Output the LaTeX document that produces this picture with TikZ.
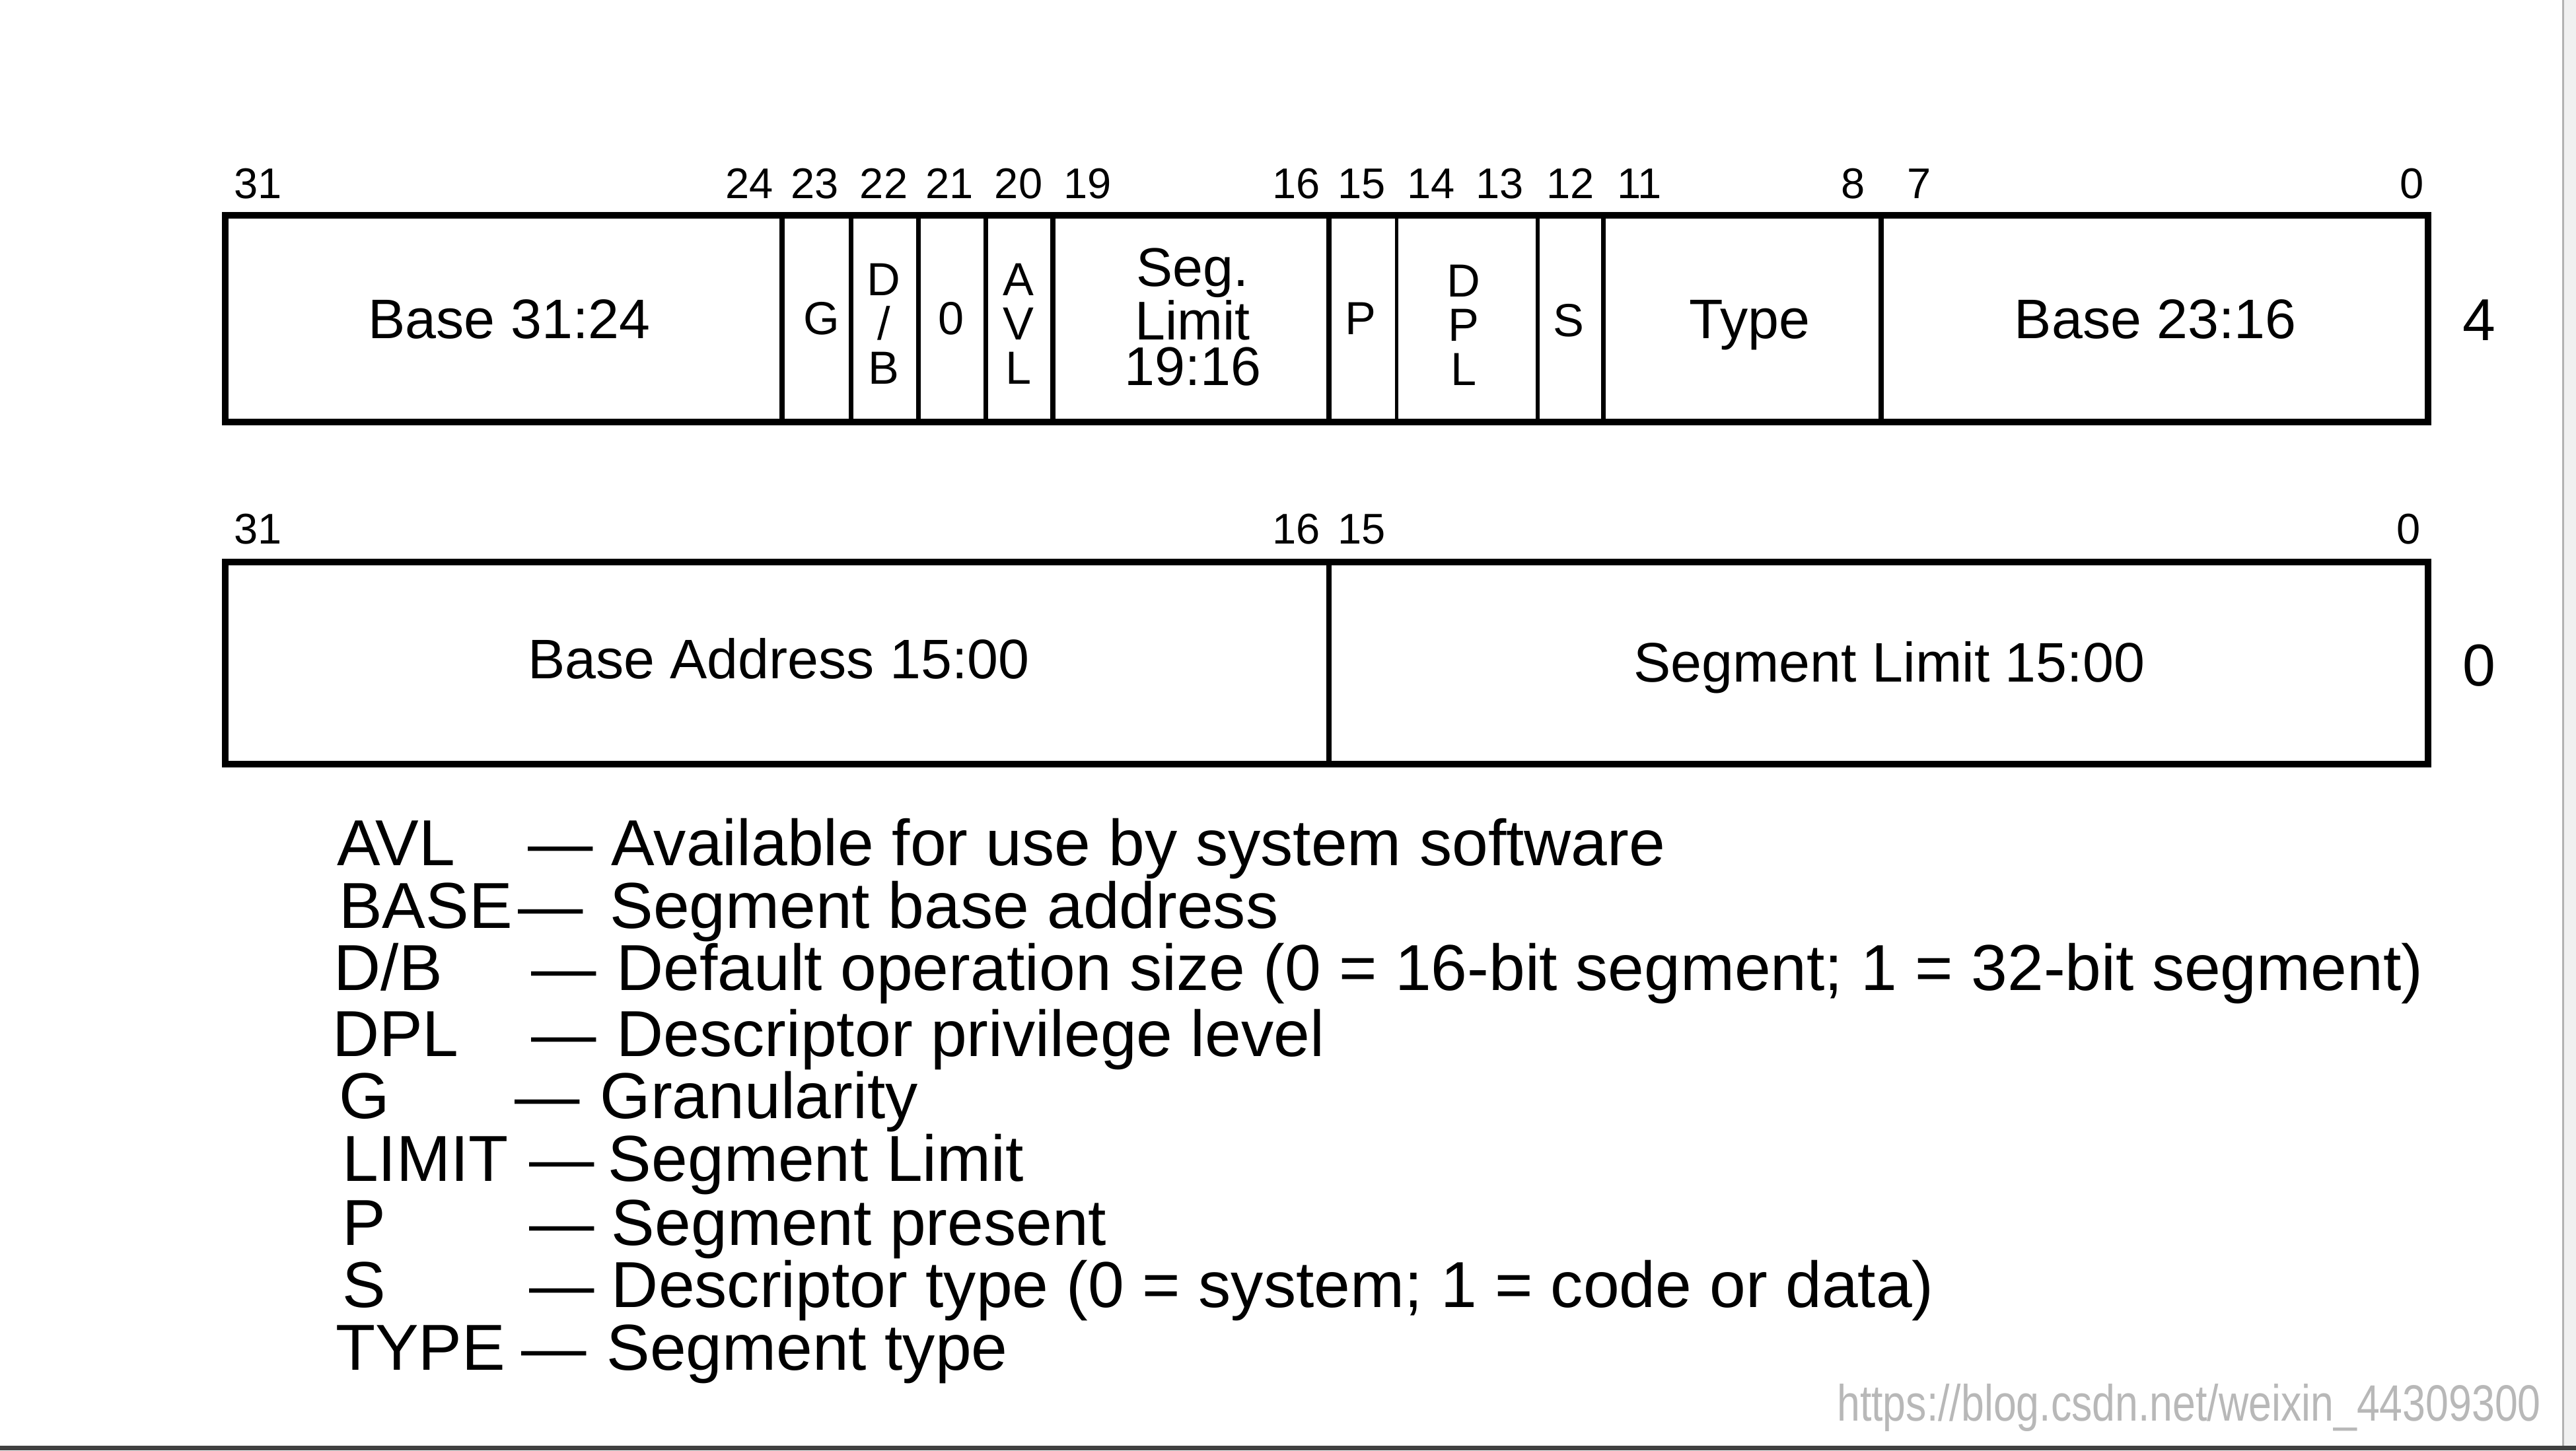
\documentclass[tikz,border=0pt]{standalone}
\usepackage{fontspec}
\setmainfont{Liberation Sans}

\begin{document}
\begin{tikzpicture}[
	x=0.02487cm, y=-0.02487cm,
	bitnum/.style={font=\fontsize{18.5pt}{20pt}\selectfont, anchor=base, inner sep=0pt},
	field/.style={font=\fontsize{24pt}{19.4pt}\selectfont, anchor=base, inner sep=0pt},
	stack/.style={font=\fontsize{23.5pt}{19.6pt}\selectfont, align=center, inner sep=0pt},
	flag/.style={font=\fontsize{20pt}{19.1pt}\selectfont, align=center, inner sep=0pt},
	rowno/.style={font=\fontsize{25.5pt}{26pt}\selectfont, inner sep=0pt},
	legend/.style={font=\fontsize{28pt}{30pt}\selectfont, anchor=base west, inner sep=0pt},
	frame/.style={line width=2.8pt},
	divider/.style={line width=2.2pt},
	thindiv/.style={line width=1.5pt}
	]
\useasboundingbox (0,0) rectangle (1568,883);

% screenshot edges
\fill[black!6] (1560,0) rectangle (1568,883);
\draw[black!30, line width=0.8pt] (1560,0) -- (1560,880);
\fill[black!75] (0,880) rectangle (1568,883);

% upper word (offset 4)
\draw[frame] (137,131) rectangle (1478,257);
\foreach \x in {476,518,559,600,641,809,976,1145}
	\draw[divider] (\x,131) -- (\x,257);
\foreach \x in {850,936}
	\draw[thindiv] (\x,131) -- (\x,257);

\foreach \x/\n in {157/31, 456/24, 496/23, 538/22, 578/21, 620/20, 662/19,
	789/16, 829/15, 871/14, 913/13, 956/12, 998/11, 1128/8, 1168/7, 1468/0}
	\node[bitnum] (hi\n) at (\x,121) {\n};

\node[field] (base3124) at (310,206) {Base 31:24};
\node[flag] (g) at (500,194) {G};
\node[flag] (db) at (538,197) {D\\/\\B};
\node[flag] (zero) at (579,194) {0};
\node[flag] (avl) at (620,197) {A\\V\\L};
\node[stack] (seglim) at (726,193) {Seg.\\Limit\\19:16};
\node[flag] (p) at (828,194) {P};
\node[flag] (dpl) at (891,198) {D\\P\\L};
\node[flag] (s) at (955,195) {S};
\node[field] (type) at (1065,206) {Type};
\node[field] (base2316) at (1312,206) {Base 23:16};
\node[rowno] (off4) at (1509,195) {4};

% lower word (offset 0)
\draw[frame] (137,342) rectangle (1478,465);
\draw[divider] (809,342) -- (809,465);

\foreach \x/\n in {157/31, 789/16, 829/15, 1466/0}
	\node[bitnum] (lo\n) at (\x,331) {\n};

\node[field] (base1500) at (474,413) {Base Address 15:00};
\node[field] (lim1500) at (1150,415) {Segment Limit 15:00};
\node[rowno] (off0) at (1509,405) {0};

% legend
\node[legend] (kavl) at (205,527) {AVL};
\node[legend] (davl) at (321,527) {—};
\node[legend] (tavl) at (372,527) {Available for use by system software};

\node[legend] (kbase) at (206,565) {BASE};
\node[legend] (dbase) at (315,565) {—};
\node[legend] (tbase) at (371,565) {Segment base address};

\node[legend] (kdb) at (203,603) {D/B};
\node[legend] (ddb) at (323,603) {—};
\node[legend] (tdb) at (375,603) {Default operation size (0 = 16-bit segment; 1 = 32-bit segment)};

\node[legend] (kdpl) at (202,643) {DPL};
\node[legend] (ddpl) at (323,643) {—};
\node[legend] (tdpl) at (375,643) {Descriptor privilege level};

\node[legend] (kg) at (206,681) {G};
\node[legend] (dg) at (313,681) {—};
\node[legend] (tg) at (365,681) {Granularity};

\node[legend] (klim) at (208,719) {LIMIT};
\node[legend] (dlim) at (322,719) {—};
\node[legend] (tlim) at (370,719) {Segment Limit};

\node[legend] (kp) at (208,758) {P};
\node[legend] (dp) at (322,758) {—};
\node[legend] (tp) at (372,758) {Segment present};

\node[legend] (ks) at (208,796) {S};
\node[legend] (ds) at (322,796) {—};
\node[legend] (ts) at (372,796) {Descriptor type (0 = system; 1 = code or data)};

\node[legend] (ktype) at (204,834) {TYPE};
\node[legend] (dtype) at (317,834) {—};
\node[legend] (ttype) at (369,834) {Segment type};

% watermark
\node[font=\fontsize{22pt}{22pt}\selectfont, text=black!28, anchor=base west,
	inner sep=0pt, xscale=0.81] (mark) at (1118,865) {https://blog.csdn.net/weixin\_44309300};

\end{tikzpicture}
\end{document}
